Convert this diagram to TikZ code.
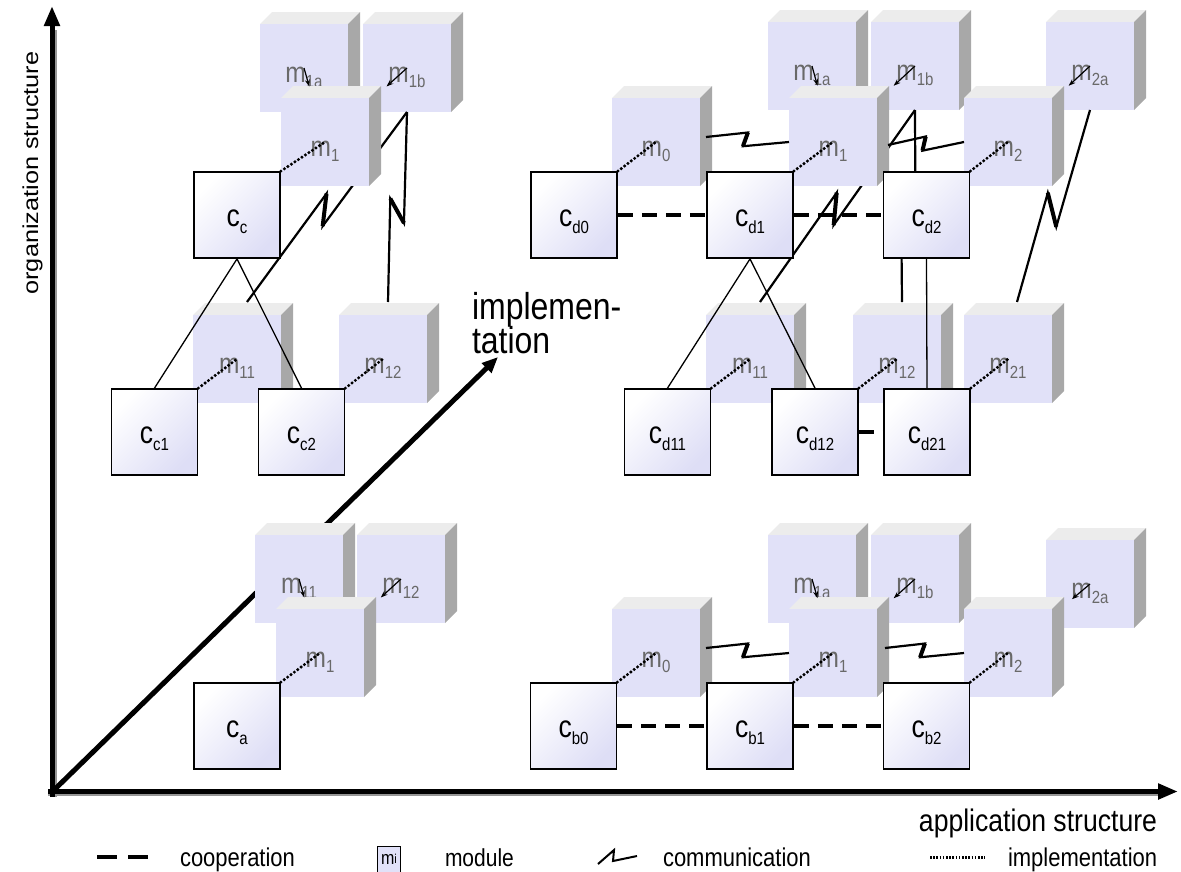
\documentclass[tikz,border=0pt]{standalone}
\usepackage{fontspec}
\setmainfont{Liberation Sans}
\usetikzlibrary{calc,arrows.meta}
\definecolor{mfrontc}{RGB}{225,225,248}
\definecolor{mtopc}{RGB}{236,236,236}
\definecolor{msidec}{RGB}{168,168,168}
\definecolor{mtextc}{RGB}{105,105,105}
\definecolor{cfillc}{RGB}{222,222,246}
\definecolor{shadowc}{RGB}{150,150,150}
\newcommand\vs[1]{\scalebox{1}[1.17]{#1}}
\newcommand\sbs[2]{\raisebox{#1}{\fontsize{15}{15}\selectfont #2}}
% module cube: name, left x, top y, subscript
\newcommand\modcube[4]{%
  \fill[mtopc] (#2,#3) -- ++(12,-12) -- ++(88,0) -- ++(-12,12) -- cycle;
  \fill[msidec] (#2+88,#3) -- ++(12,-12) -- ++(0,88) -- ++(-12,12) -- cycle;
  \node[modf, anchor=north west] (#1) at (#2,#3) {\vs{m\sbs{-5pt}{#4}}};}
% communication: from, to, t1, t2, offset
\newcommand\comm[5]{%
  \path ($(#1)!#3!(#2)!#5!90:(#2)$) coordinate (zz1)
        ($(#1)!#4!(#2)!#5!-90:(#2)$) coordinate (zz2);
  \draw[commln] (#1) -- (zz1) -- (zz2) -- (#2);
  \draw[commln, line width=4pt] (zz1) -- (zz2);}
\begin{document}
\begin{tikzpicture}[x=1pt,y=-1pt,
  modf/.style={fill=mfrontc, minimum width=88pt, minimum height=88pt, inner sep=0pt, outer sep=0pt,
    text=mtextc, font=\fontsize{24.5}{24}\selectfont, text height=28pt, text depth=0pt},
  ctrl/.style={draw=black, line width=1.8pt, minimum width=86pt, minimum height=86pt, inner sep=0pt,
    top color=white, bottom color=cfillc, shading angle=45,
    font=\fontsize{26.5}{26}\selectfont, text height=22pt, text depth=0pt},
  impl/.style={line width=3.4pt, dash pattern=on 0pt off 4.2pt, line cap=round},
  coop/.style={line width=4pt, dash pattern=on 15pt off 9pt},
  tree/.style={line width=1.3pt},
  commln/.style={line width=2.2pt, line join=miter},
  compo/.style={line width=1.2pt, -{Stealth[length=7pt,width=5pt]}},
  axis/.style={line width=5pt, -{Triangle[length=20pt,width=15pt]}},
  diag/.style={line width=5pt, -{Triangle[length=16pt,width=13pt]}},
  txt/.style={inner sep=0pt, outer sep=0pt}]
\useasboundingbox (0,0) rectangle (1181,871);

% ---------------- axes ----------------
\coordinate (sh_v0) at (55.5,797); \coordinate (sh_v1) at (55.5,30);
\coordinate (sh_h0) at (48,795); \coordinate (sh_h1) at (1160,795);
\draw[line width=2pt, shadowc] (sh_v0) -- (sh_v1);
\draw[line width=2pt, shadowc] (sh_h0) -- (sh_h1);
\coordinate (ax_o) at (52,797);
\coordinate (ax_yt) at (52,6);
\coordinate (ax_h0) at (48,791.5);
\coordinate (ax_xt) at (1178,791.5);
\draw[axis] (ax_o) -- (ax_yt);
\draw[axis] (ax_h0) -- (ax_xt);
\coordinate (ax_d0) at (53,791);
\coordinate (ax_dt) at (498,357);
\draw[diag] (ax_d0) -- (ax_dt);

\node[txt, rotate=90, anchor=base, font=\fontsize{21.6}{22}\selectfont] (t_org) at (38,173) {\scalebox{1.17}[1]{organization structure}};
\node[txt, anchor=base east, font=\fontsize{26.6}{26}\selectfont] (t_app) at (1157,831) {\vs{application structure}};
\node[txt, anchor=base west, font=\fontsize{32}{31}\selectfont] (t_imp1) at (472,319) {\vs{implemen-}};
\node[txt, anchor=base west, font=\fontsize{32}{31}\selectfont] (t_imp2) at (472,353) {\vs{tation}};

% ---------------- top-left group ----------------
\modcube{tl_m1a}{260}{24}{1a}
\modcube{tl_m1b}{363}{24}{1b}
\modcube{tl_m11}{193}{315}{11}
\modcube{tl_m12}{339}{315}{12}
\coordinate (tl_p11) at ([xshift=10pt,yshift=13pt]tl_m11.north);
\coordinate (tl_p12) at ([xshift=5pt,yshift=13pt]tl_m12.north);
\comm{tl_p11}{tl_m1b.south}{0.54}{0.43}{9pt}
\comm{tl_m1b.south}{tl_p12}{0.58}{0.46}{8pt}
\modcube{tl_m1}{281}{98}{1}
\coordinate (tl_q1a) at ($(tl_m1a.center)!0.25!(tl_m1.center)$);
\coordinate (tl_q1b) at ($(tl_m1b.center)!0.25!(tl_m1.center)$);
\draw[compo] (tl_m1a.center) -- (tl_q1a);
\draw[compo] (tl_m1b.center) -- (tl_q1b);
\node[ctrl] (tl_cc) at (237,215) {\vs{c\sbs{-6pt}{c}}};
\node[ctrl] (tl_cc1) at (154.5,432) {\vs{c\sbs{-6pt}{c1}}};
\node[ctrl] (tl_cc2) at (301.5,432) {\vs{c\sbs{-6pt}{c2}}};
\draw[tree] (tl_cc.south) -- (tl_cc1.north);
\draw[tree] (tl_cc.south) -- (tl_cc2.north);
\draw[impl] (tl_cc.north east) -- (tl_m1.center);
\draw[impl] (tl_cc1.north east) -- (tl_m11.center);
\draw[impl] (tl_cc2.north east) -- (tl_m12.center);

% ---------------- top-right group ----------------
\modcube{tr_m1a}{768}{22}{1a}
\modcube{tr_m1b}{871}{22}{1b}
\modcube{tr_m2a}{1046}{22}{2a}
\modcube{tr_m11}{706}{315}{11}
\modcube{tr_m12}{853}{315}{12}
\modcube{tr_m21}{964}{315}{21}
\coordinate (tr_p11) at ([xshift=10pt,yshift=13pt]tr_m11.north);
\coordinate (tr_p12) at ([xshift=5pt,yshift=13pt]tr_m12.north);
\coordinate (tr_p21) at ([xshift=9pt,yshift=13pt]tr_m21.north);
\comm{tr_p11}{tr_m1b.south}{0.54}{0.43}{9pt}
\comm{tr_m1b.south}{tr_p12}{0.58}{0.46}{8pt}
\comm{tr_m2a.south}{tr_p21}{0.59}{0.45}{10pt}
\modcube{tr_m0}{612}{98}{0}
\modcube{tr_m1}{789}{98}{1}
\modcube{tr_m2}{964}{98}{2}
\coordinate (tr_q1a) at ($(tr_m1a.center)!0.26!(tr_m1.center)$);
\coordinate (tr_q1b) at ($(tr_m1b.center)!0.26!(tr_m1.center)$);
\coordinate (tr_q2a) at ($(tr_m2a.center)!0.26!(tr_m2.center)$);
\draw[compo] (tr_m1a.center) -- (tr_q1a);
\draw[compo] (tr_m1b.center) -- (tr_q1b);
\draw[compo] (tr_m2a.center) -- (tr_q2a);
\coordinate (tr_s01) at ([xshift=6pt,yshift=5pt]tr_m0.east);
\coordinate (tr_s12) at ([xshift=11pt,yshift=-3pt]tr_m1.east);
\comm{tr_s01}{tr_m1.west}{0.5}{0.45}{7pt}
\comm{tr_s12}{tr_m2.west}{0.5}{0.45}{7pt}
\node[ctrl] (tr_cd0) at (574,215) {\vs{c\sbs{-6pt}{d0}}};
\node[ctrl] (tr_cd1) at (750,215) {\vs{c\sbs{-6pt}{d1}}};
\node[ctrl] (tr_cd2) at (926.5,215) {\vs{c\sbs{-6pt}{d2}}};
\node[ctrl] (tr_cd11) at (667.5,432) {\vs{c\sbs{-6pt}{d11}}};
\node[ctrl] (tr_cd12) at (815,432) {\vs{c\sbs{-6pt}{d12}}};
\node[ctrl] (tr_cd21) at (927,432) {\vs{c\sbs{-6pt}{d21}}};
\draw[coop] (tr_cd0.east) -- (tr_cd1.west);
\draw[coop] (tr_cd1.east) -- (tr_cd2.west);
\draw[coop] (tr_cd12.east) -- (tr_cd21.west);
\draw[tree] (tr_cd1.south) -- (tr_cd11.north);
\draw[tree] (tr_cd1.south) -- (tr_cd12.north);
\draw[tree] (tr_cd2.south) -- (tr_cd21.north);
\draw[impl] (tr_cd0.north east) -- (tr_m0.center);
\draw[impl] (tr_cd1.north east) -- (tr_m1.center);
\draw[impl] (tr_cd2.north east) -- (tr_m2.center);
\draw[impl] (tr_cd11.north east) -- (tr_m11.center);
\draw[impl] (tr_cd12.north east) -- (tr_m12.center);
\draw[impl] (tr_cd21.north east) -- (tr_m21.center);

% ---------------- bottom-left group ----------------
\modcube{bl_m11}{255}{535}{11}
\modcube{bl_m12}{357}{535}{12}
\modcube{bl_m1}{276}{609}{1}
\coordinate (bl_q11) at ($(bl_m11.center)!0.25!(bl_m1.center)$);
\coordinate (bl_q12) at ($(bl_m12.center)!0.25!(bl_m1.center)$);
\draw[compo] (bl_m11.center) -- (bl_q11);
\draw[compo] (bl_m12.center) -- (bl_q12);
\node[ctrl] (bl_ca) at (237,726) {\vs{c\sbs{-6pt}{a}}};
\draw[impl] (bl_ca.north east) -- (bl_m1.center);

% ---------------- bottom-right group ----------------
\modcube{br_m1a}{768}{535}{1a}
\modcube{br_m1b}{871}{535}{1b}
\modcube{br_m2a}{1046}{540}{2a}
\modcube{br_m0}{612}{609}{0}
\modcube{br_m1}{789}{609}{1}
\modcube{br_m2}{964}{609}{2}
\coordinate (br_q1a) at ($(br_m1a.center)!0.26!(br_m1.center)$);
\coordinate (br_q1b) at ($(br_m1b.center)!0.26!(br_m1.center)$);
\coordinate (br_q2a) at ($(br_m2a.center)!0.22!(br_m2.center)$);
\draw[compo] (br_m1a.center) -- (br_q1a);
\draw[compo] (br_m1b.center) -- (br_q1b);
\draw[compo] (br_m2a.center) -- (br_q2a);
\coordinate (br_s01) at ([xshift=6pt,yshift=5pt]br_m0.east);
\coordinate (br_s12) at ([xshift=8pt,yshift=5pt]br_m1.east);
\comm{br_s01}{br_m1.west}{0.5}{0.45}{7pt}
\comm{br_s12}{br_m2.west}{0.5}{0.45}{7pt}
\node[ctrl] (br_cb0) at (573.5,726) {\vs{c\sbs{-6pt}{b0}}};
\node[ctrl] (br_cb1) at (750,726) {\vs{c\sbs{-6pt}{b1}}};
\node[ctrl] (br_cb2) at (926.5,726) {\vs{c\sbs{-6pt}{b2}}};
\draw[coop] (br_cb0.east) -- (br_cb1.west);
\draw[coop] (br_cb1.east) -- (br_cb2.west);
\draw[impl] (br_cb0.north east) -- (br_m0.center);
\draw[impl] (br_cb1.north east) -- (br_m1.center);
\draw[impl] (br_cb2.north east) -- (br_m2.center);

% ---------------- legend ----------------
\coordinate (lg_c1) at (97,857); \coordinate (lg_c2) at (148,857);
\draw[line width=4.5pt, dash pattern=on 20pt off 11pt] (lg_c1) -- (lg_c2);
\node[txt, anchor=base west, font=\fontsize{22}{22}\selectfont] (lg_t1) at (180,866) {\vs{cooperation}};
\node[draw=black, line width=1pt, fill=mfrontc, minimum width=23pt, minimum height=32pt, inner sep=0pt,
  anchor=north west, font=\fontsize{16}{16}\selectfont, text height=10pt, text depth=6pt] (lg_mod) at (377,846)
  {\vs{m\raisebox{1pt}{\fontsize{11}{11}\selectfont i}}};
\node[txt, anchor=base west, font=\fontsize{21}{22}\selectfont] (lg_t2) at (445,866) {\vs{module}};
\coordinate (lg_z0) at (598,864); \coordinate (lg_z1) at (614,850);
\coordinate (lg_z2) at (613,861); \coordinate (lg_z3) at (637,856);
\draw[line width=2pt, line join=miter] (lg_z0) -- (lg_z1) -- (lg_z2) -- (lg_z3);
\node[txt, anchor=base west, font=\fontsize{22}{22}\selectfont] (lg_t3) at (663,866) {\vs{communication}};
\coordinate (lg_d1) at (930,857); \coordinate (lg_d2) at (985,857);
\draw[line width=3pt, dash pattern=on 1.6pt off 1.6pt] (lg_d1) -- (lg_d2);
\node[txt, anchor=base west, font=\fontsize{22}{22}\selectfont] (lg_t4) at (1008,866) {\vs{implementation}};
\end{tikzpicture}
\end{document}
